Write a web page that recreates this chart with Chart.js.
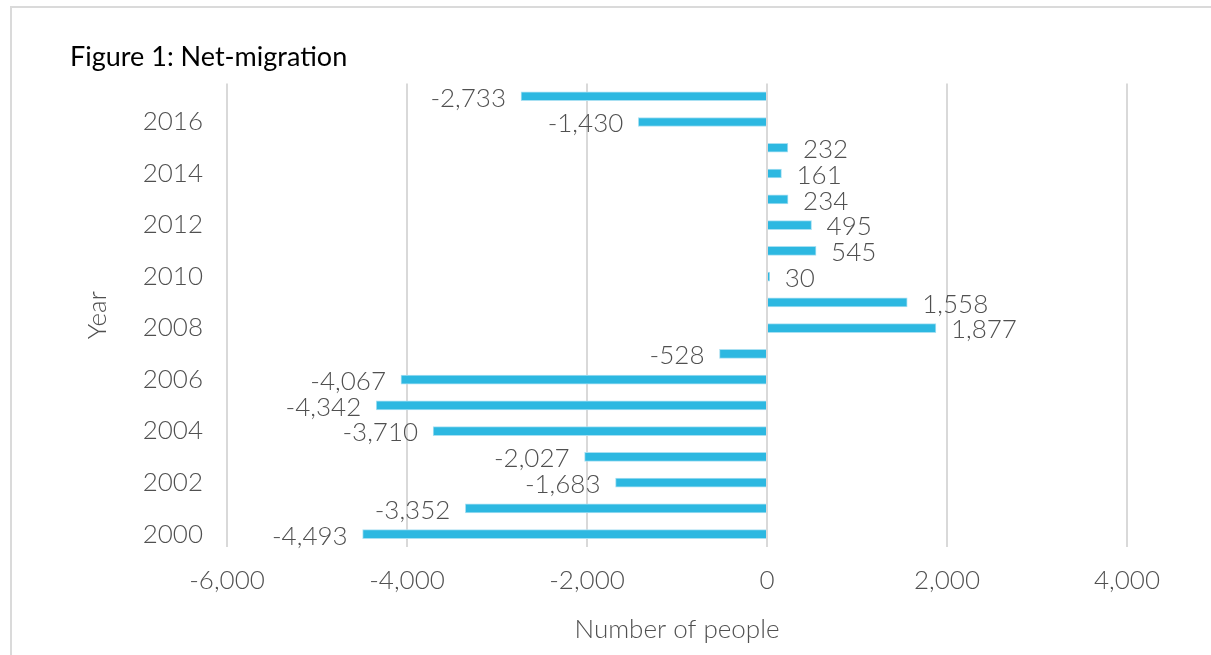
<!DOCTYPE html>
<html>
<head>
<meta charset="utf-8">
<script src="https://cdn.jsdelivr.net/npm/chart.js@4/dist/chart.umd.min.js"></script>
<style>
    body { margin: 0; background: #fff; }
    #frame { position: absolute; left: 10px; top: 6px; width: 1220px; height: 700px;
             border-top: 2px solid #dadada; border-left: 2px solid #dadada; }
    #wrap { position: absolute; left: 0; top: 0; width: 1211px; height: 655px; }
</style>
</head>
<body>
<div id="frame"></div>
<div id="wrap"><canvas id="canvas"></canvas></div>
<script>
// Dữ liệu
const years = ['2000', '2001', '2002', '2003', '2004', '2005', '2006', '2007', '2008',
               '2009', '2010', '2011', '2012', '2013', '2014', '2015', '2016', '2017'];
const netMigration = [-4493, -3352, -1683, -2027, -3710, -4342, -4067, -528, 1877,
                      1558, 30, 545, 495, 234, 161, 232, -1430, -2733];
const xTicks = [-6000, -4000, -2000, 0, 2000, 4000];

const FONT = 'Lato, "Open Sans", sans-serif';
const GREY = '#505050';

// Nhãn giá trị ở đầu mỗi thanh
const valueLabels = {
    id: 'valueLabels',
    afterDatasetsDraw(chart) {
        const ctx = chart.ctx;
        const meta = chart.getDatasetMeta(0);
        ctx.save();
        ctx.font = '300 26px ' + FONT;
        ctx.fillStyle = GREY;
        ctx.textBaseline = 'middle';
        meta.data.forEach((bar, i) => {
            const v = netMigration[i];
            const txt = v.toLocaleString('en-US');
            if (v < 0) {
                ctx.textAlign = 'right';
                ctx.fillText(txt, bar.x - 15, bar.y + 2);
            } else {
                ctx.textAlign = 'left';
                ctx.fillText(txt, bar.x + 15, bar.y + 2);
            }
        });
        ctx.restore();
    }
};

const config = {
    type: 'bar',
    data: {
        labels: years,
        datasets: [{
            data: netMigration,
            backgroundColor: '#2db8e1',
            borderColor: '#a8e0f2',
            borderWidth: 1,
            borderSkipped: 'start',
            barThickness: 9
        }]
    },
    options: {
        indexAxis: 'y',
        responsive: true,
        maintainAspectRatio: false,
        animation: false,
        layout: { padding: { left: 70, right: 84, top: 0, bottom: 0 } },
        plugins: {
            legend: { display: false },
            tooltip: { enabled: false },
            title: {
                display: true,
                text: 'Figure 1: Net-migration',
                align: 'start',
                color: '#000',
                font: { family: FONT, size: 27, weight: 'normal' },
                padding: { top: 41, bottom: 10 }
            }
        },
        scales: {
            x: {
                min: -6000,
                max: 4000,
                afterBuildTicks(scale) {
                    scale.ticks = xTicks.map(v => ({ value: v }));
                },
                afterFit(scale) { scale.height = 108; },
                grid: { color: '#d9d9d9', lineWidth: 2, drawTicks: false },
                border: { display: false },
                ticks: {
                    padding: 18,
                    color: GREY,
                    font: { family: FONT, size: 26, weight: '300' },
                    callback: v => v.toLocaleString('en-US')
                },
                title: {
                    display: true,
                    text: 'Number of people',
                    color: GREY,
                    font: { family: FONT, size: 26, weight: '300' },
                    padding: { top: 0, bottom: 10 }
                }
            },
            y: {
                reverse: true,
                afterFit(scale) { scale.width = 157; },
                grid: { display: false },
                border: { display: false },
                ticks: {
                    autoSkip: false,
                    padding: 16,
                    color: GREY,
                    font: { family: FONT, size: 26, weight: '300' },
                    callback: function (v, i) {
                        return i % 2 === 0 ? years[i] : '';
                    }
                },
                title: {
                    display: true,
                    text: 'Year',
                    color: GREY,
                    font: { family: FONT, size: 26, weight: '300' },
                    padding: { top: 12, bottom: 0 }
                }
            }
        }
    },
    plugins: [valueLabels]
};

new Chart('canvas', config);
</script>
</body>
</html>
